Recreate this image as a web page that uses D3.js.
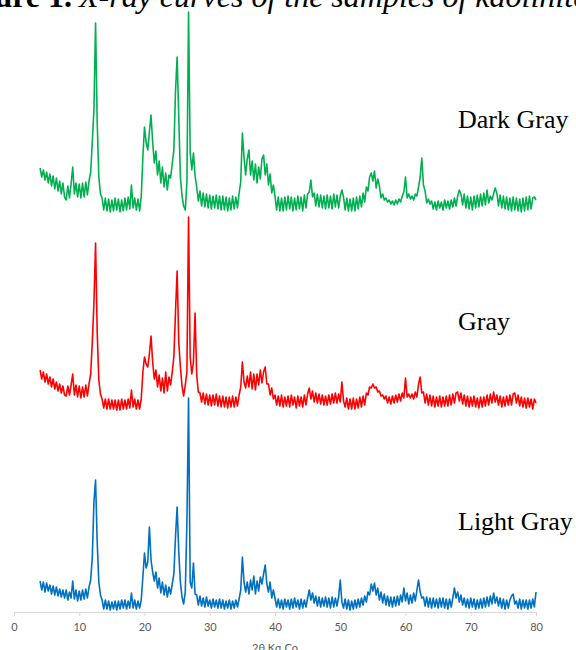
<!DOCTYPE html>
<html>
<head>
<meta charset="utf-8">
<script src="https://cdnjs.cloudflare.com/ajax/libs/d3/7.8.5/d3.min.js"></script>
<style>
  body { margin: 0; background: #fff; }
  svg { display: block; }
</style>
</head>
<body>
<script>
// 2theta grid: 4..80 deg, step 0.25
const thetaStart = 4;
const thetaStep = 0.25;
const xTicks = [0, 10, 20, 30, 40, 50, 60, 70, 80];
const sampleNames = ['Light Gray', 'Gray', 'Dark Gray'];
const sampleColors = ['#0070C0', '#FF0000', '#00B050'];
const sampleOffsets = [0, 200, 400];

// intensities (a.u.), one row = 4 deg
const lightGray = [
  31, 22, 30, 20, 29, 21, 27, 18, 26, 17, 25, 16, 23, 15, 22, 14,
  22, 12, 20, 14, 31, 13, 22, 11, 21, 12, 22, 13, 23, 14, 25, 32,
  55, 110, 132, 70, 30, 17, 12, 3, 12, 3, 11, 2, 10, 3, 11, 2,
  11, 3, 12, 4, 12, 3, 11, 4, 19, 4, 12, 3, 11, 4, 12, 35,
  59, 44, 50, 85, 52, 40, 31, 40, 24, 34, 19, 30, 17, 27, 15, 25,
  18, 28, 38, 75, 105, 60, 30, 15, 8, 20, 90, 214, 30, 24, 49, 18,
  17, 7, 16, 6, 14, 5, 15, 6, 12, 4, 13, 5, 12, 4, 13, 4,
  12, 3, 11, 4, 12, 3, 11, 4, 12, 5, 13, 22, 55, 30, 20, 30,
  18, 32, 22, 36, 18, 31, 21, 35, 28, 38, 47, 28, 20, 30, 14, 22,
  14, 5, 13, 4, 12, 3, 13, 5, 12, 3, 13, 4, 14, 5, 12, 3,
  13, 4, 12, 5, 14, 22, 12, 19, 9, 16, 6, 15, 5, 14, 6, 15,
  5, 14, 4, 15, 5, 14, 6, 15, 32, 10, 4, 13, 3, 12, 2, 11,
  3, 12, 4, 13, 5, 14, 7, 16, 10, 20, 17, 28, 21, 29, 17, 24,
  12, 20, 9, 18, 7, 16, 6, 15, 5, 15, 6, 16, 7, 17, 10, 24,
  11, 19, 8, 17, 9, 19, 11, 22, 32, 20, 14, 15, 6, 15, 5, 14,
  4, 14, 5, 13, 4, 14, 5, 14, 4, 13, 3, 13, 5, 14, 24, 14,
  20, 10, 17, 7, 14, 5, 13, 4, 14, 5, 13, 3, 12, 4, 13, 4,
  14, 5, 15, 6, 16, 8, 19, 9, 15, 6, 14, 4, 13, 3, 12, 4,
  12, 16, 18, 8, 11, 4, 13, 3, 12, 4, 12, 3, 12, 4, 13, 5,
  20
];

const gray = [
  42, 33, 40, 30, 38, 28, 35, 25, 33, 23, 30, 21, 28, 19, 26, 17,
  16, 26, 17, 27, 38, 17, 27, 15, 26, 14, 25, 15, 27, 16, 28, 38,
  70, 109, 169, 80, 32, 18, 13, 4, 13, 3, 13, 3, 12, 3, 12, 2,
  12, 2, 13, 3, 12, 3, 13, 4, 22, 5, 13, 3, 12, 3, 13, 40,
  55, 48, 45, 58, 76, 50, 33, 42, 25, 37, 21, 34, 19, 40, 21, 35,
  27, 40, 55, 100, 141, 70, 45, 26, 16, 27, 40, 195, 55, 38, 50, 99,
  37, 20, 19, 10, 19, 8, 18, 7, 17, 6, 17, 7, 18, 6, 16, 5,
  16, 5, 15, 4, 15, 5, 16, 5, 15, 6, 17, 25, 50, 30, 24, 36,
  25, 40, 23, 38, 22, 38, 27, 42, 29, 40, 45, 28, 28, 17, 24, 13,
  17, 7, 16, 6, 17, 5, 15, 6, 16, 5, 17, 7, 15, 4, 16, 6,
  15, 5, 17, 7, 18, 24, 13, 21, 10, 19, 9, 18, 8, 17, 7, 16,
  7, 17, 8, 18, 9, 19, 9, 18, 10, 30, 11, 5, 14, 3, 13, 3,
  14, 3, 13, 4, 15, 5, 16, 7, 19, 17, 25, 24, 28, 24, 25, 20,
  21, 16, 17, 13, 16, 9, 15, 8, 16, 9, 17, 10, 18, 11, 19, 14,
  34, 15, 18, 14, 18, 13, 20, 15, 28, 35, 19, 20, 9, 18, 7, 17,
  6, 16, 5, 15, 6, 16, 5, 15, 6, 16, 6, 17, 7, 18, 9, 19,
  20, 11, 19, 8, 17, 6, 16, 5, 15, 6, 16, 5, 14, 4, 15, 5,
  15, 6, 17, 7, 18, 9, 20, 10, 17, 7, 16, 5, 15, 6, 16, 7,
  17, 7, 18, 19, 9, 17, 6, 15, 5, 14, 4, 14, 5, 13, 3, 13,
  9
];

const darkGray = [
  44, 35, 42, 32, 40, 29, 38, 26, 36, 23, 34, 21, 31, 18, 29, 15,
  12, 26, 14, 28, 45, 18, 29, 15, 28, 14, 29, 15, 30, 17, 31, 40,
  70, 102, 189, 90, 35, 18, 14, 2, 14, 1, 13, 0, 12, 1, 14, 2,
  13, 0, 12, 1, 14, 2, 15, 3, 27, 4, 14, 2, 13, 1, 15, 55,
  85, 70, 62, 80, 97, 70, 49, 61, 37, 51, 29, 45, 25, 39, 22, 37,
  34, 48, 62, 120, 155, 95, 35, 16, 6, 2, 30, 200, 60, 42, 59, 36,
  25, 11, 21, 6, 19, 5, 18, 4, 17, 3, 16, 4, 17, 3, 16, 2,
  16, 2, 15, 1, 14, 2, 16, 3, 15, 4, 19, 30, 79, 55, 37, 53,
  62, 37, 51, 32, 48, 29, 45, 33, 53, 57, 37, 48, 27, 38, 19, 27,
  16, 2, 15, 1, 14, 1, 15, 2, 16, 3, 15, 1, 14, 2, 16, 3,
  15, 1, 17, 4, 18, 20, 32, 15, 19, 6, 18, 5, 17, 4, 16, 3,
  17, 4, 16, 3, 18, 5, 17, 4, 16, 22, 15, 2, 14, 1, 13, 1,
  14, 1, 15, 3, 16, 5, 19, 10, 25, 21, 35, 39, 31, 41, 24, 33,
  26, 14, 18, 12, 14, 10, 12, 8, 11, 7, 12, 8, 13, 10, 16, 20,
  35, 14, 18, 13, 16, 12, 18, 16, 25, 35, 54, 27, 21, 9, 13, 8,
  11, 3, 10, 2, 11, 4, 10, 2, 12, 4, 11, 3, 12, 5, 14, 6,
  16, 22, 18, 7, 18, 4, 16, 3, 15, 2, 16, 4, 17, 5, 18, 6,
  19, 7, 22, 9, 16, 12, 18, 24, 19, 6, 17, 4, 16, 3, 15, 2,
  14, 1, 15, 2, 14, 1, 13, 0, 14, 1, 15, 2, 16, 3, 14, 15,
  12
];

const series = [lightGray, gray, darkGray];

const width = 576;
const height = 650;

const svg = d3.select('body')
    .append('svg')
    .attr('width', width)
    .attr('height', height);

const xScale = d3.scaleLinear()
    .domain([0, 80])
    .range([14, 536]);

const yScale = d3.scaleLinear()
    .domain([0, 600])
    .range([612, 12]);

const xAxis = d3.axisBottom(xScale)
    .tickValues(xTicks)
    .tickSize(4)
    .tickSizeOuter(0)
    .tickPadding(7);

const gx = svg.append('g')
    .attr('transform', 'translate(0,' + yScale(0) + ')')
    .call(xAxis);

gx.select('.domain').attr('stroke', '#D9D9D9');
gx.selectAll('.tick line').attr('stroke', '#D9D9D9');
gx.selectAll('.tick text')
    .attr('fill', '#595959')
    .style('font-family', 'Lato')
    .style('font-size', '11px');

svg.append('text')
    .attr('x', 275)
    .attr('y', 652)
    .attr('text-anchor', 'middle')
    .attr('fill', '#595959')
    .style('font-family', 'Lato')
    .style('font-size', '11px')
    .text('2θ Kα Co');

const line = d3.line()
    .x((d, i) => xScale(thetaStart + i * thetaStep))
    .y((d) => yScale(d));

series.forEach((s, k) => {
    svg.append('path')
        .datum(s.map((v) => v + sampleOffsets[k]))
        .attr('fill', 'none')
        .attr('stroke', sampleColors[k])
        .attr('stroke-width', 1.6)
        .attr('stroke-linejoin', 'round')
        .attr('d', line);
});

// sample names
const labelY = [530, 330, 128];
svg.selectAll('.sample-label')
    .data(sampleNames)
    .enter()
    .append('text')
    .attr('class', 'sample-label')
    .attr('x', 458)
    .attr('y', (d, i) => labelY[i])
    .style('font-family', 'Liberation Serif')
    .style('font-size', '26px')
    .attr('fill', '#000')
    .text((d) => d);

// caption, cut off at the top of the picture
svg.append('text')
    .attr('x', 72)
    .attr('y', 7)
    .attr('text-anchor', 'end')
    .style('font-family', 'Liberation Serif')
    .style('font-size', '32px')
    .style('font-weight', 'bold')
    .text('Figure 1.');

svg.append('text')
    .attr('x', 79)
    .attr('y', 7)
    .style('font-family', 'Liberation Serif')
    .style('font-size', '32px')
    .style('font-style', 'italic')
    .text('X-ray curves of the samples of kaolinite');
</script>
</body>
</html>
